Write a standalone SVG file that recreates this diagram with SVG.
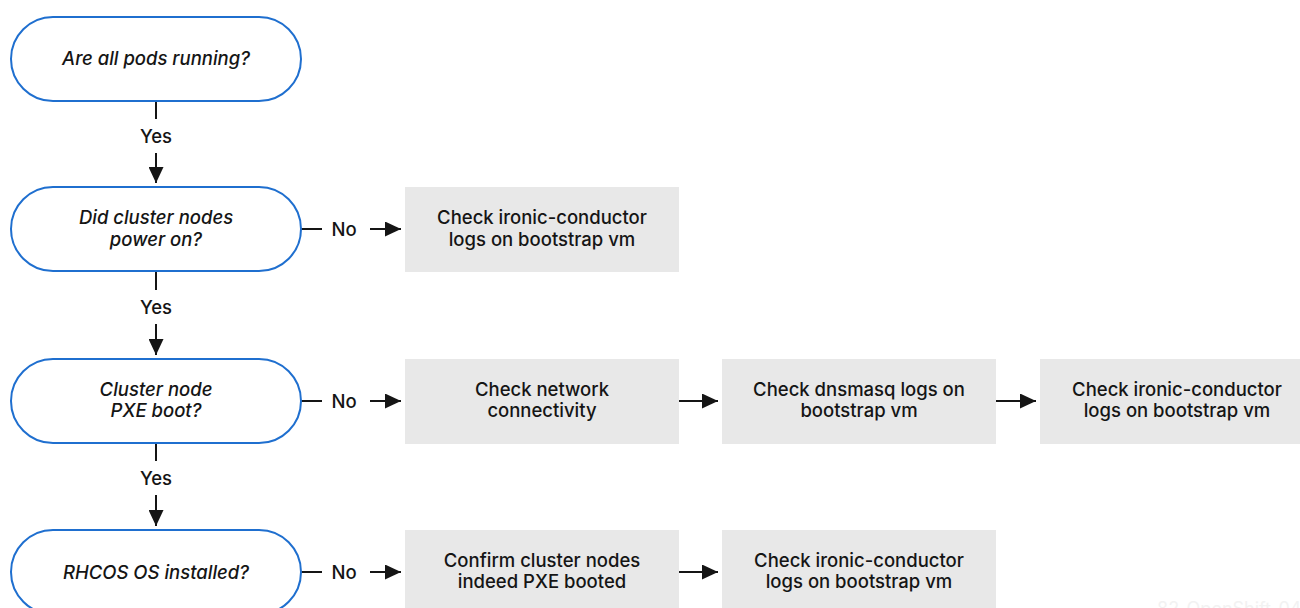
<svg xmlns="http://www.w3.org/2000/svg" width="1300" height="608" viewBox="0 0 1300 608">
<defs>
<marker id="ah" markerWidth="16" markerHeight="15" refX="16" refY="7.5" orient="auto" markerUnits="userSpaceOnUse">
<path d="M0,0 L16,7.5 L0,15 Z" fill="#151515"/>
</marker>
<style>
.pill{fill:#fff;stroke:#1f6fcf;stroke-width:2}
.box{fill:#e8e8e8}
.t{font-family:Inter,"Noto Sans","Liberation Sans",sans-serif;font-size:18.5px;font-weight:500;fill:#151515;text-anchor:middle}
.i{font-style:italic}
.ln{stroke:#151515;stroke-width:2;fill:none}
.wm{font-family:Inter,"Liberation Sans",sans-serif;font-size:18px;fill:#f2f2f2}
</style>
</defs>
<rect width="1300" height="608" fill="#fff"/>
<g id="connectors">
<line class="ln" x1="156" y1="101" x2="156" y2="119"/>
<line class="ln" x1="156" y1="153" x2="156" y2="183" marker-end="url(#ah)"/>
<text class="t" x="156" y="143">Yes</text>
<line class="ln" x1="156" y1="271" x2="156" y2="290"/>
<line class="ln" x1="156" y1="324" x2="156" y2="355" marker-end="url(#ah)"/>
<text class="t" x="156" y="314">Yes</text>
<line class="ln" x1="156" y1="443" x2="156" y2="461"/>
<line class="ln" x1="156" y1="495" x2="156" y2="526" marker-end="url(#ah)"/>
<text class="t" x="156" y="485">Yes</text>
<line class="ln" x1="301" y1="229" x2="322" y2="229"/>
<text class="t" x="344" y="236">No</text>
<line class="ln" x1="370" y1="229" x2="401" y2="229" marker-end="url(#ah)"/>
<line class="ln" x1="301" y1="401" x2="322" y2="401"/>
<text class="t" x="344" y="408">No</text>
<line class="ln" x1="370" y1="401" x2="401" y2="401" marker-end="url(#ah)"/>
<line class="ln" x1="301" y1="572" x2="322" y2="572"/>
<text class="t" x="344" y="579">No</text>
<line class="ln" x1="370" y1="572" x2="401" y2="572" marker-end="url(#ah)"/>
<line class="ln" x1="679" y1="401" x2="718" y2="401" marker-end="url(#ah)"/>
<line class="ln" x1="996" y1="401" x2="1036" y2="401" marker-end="url(#ah)"/>
<line class="ln" x1="679" y1="572" x2="718" y2="572" marker-end="url(#ah)"/>
</g>
<g id="q1"><rect class="pill" x="11" y="17" width="290" height="84" rx="42"/><text class="t i" x="156" y="65">Are all pods running?</text></g>
<g id="q2"><rect class="pill" x="11" y="187" width="290" height="84" rx="42"/><text class="t i" x="156" y="224">Did cluster nodes</text><text class="t i" x="156" y="246">power on?</text></g>
<g id="q3"><rect class="pill" x="11" y="359" width="290" height="84" rx="42"/><text class="t i" x="156" y="396">Cluster node</text><text class="t i" x="156" y="417">PXE boot?</text></g>
<g id="q4"><rect class="pill" x="11" y="530" width="290" height="84" rx="42"/><text class="t i" x="156" y="579">RHCOS OS installed?</text></g>
<g id="a1"><rect class="box" x="405" y="187" width="274" height="85"/><text class="t" x="542" y="224">Check ironic-conductor</text><text class="t" x="542" y="246">logs on bootstrap vm</text></g>
<g id="a2"><rect class="box" x="405" y="359" width="274" height="85"/><text class="t" x="542" y="396">Check network</text><text class="t" x="542" y="417">connectivity</text></g>
<g id="a3"><rect class="box" x="722" y="359" width="274" height="85"/><text class="t" x="859" y="396">Check dnsmasq logs on</text><text class="t" x="859" y="417">bootstrap vm</text></g>
<g id="a4"><rect class="box" x="1040" y="359" width="274" height="85"/><text class="t" x="1177" y="396">Check ironic-conductor</text><text class="t" x="1177" y="417">logs on bootstrap vm</text></g>
<g id="a5"><rect class="box" x="405" y="530" width="274" height="85"/><text class="t" x="542" y="567">Confirm cluster nodes</text><text class="t" x="542" y="588">indeed PXE booted</text></g>
<g id="a6"><rect class="box" x="722" y="530" width="274" height="85"/><text class="t" x="859" y="567">Check ironic-conductor</text><text class="t" x="859" y="588">logs on bootstrap vm</text></g>
<text class="wm" x="1157" y="615">82_OpenShift_0421</text>
</svg>
